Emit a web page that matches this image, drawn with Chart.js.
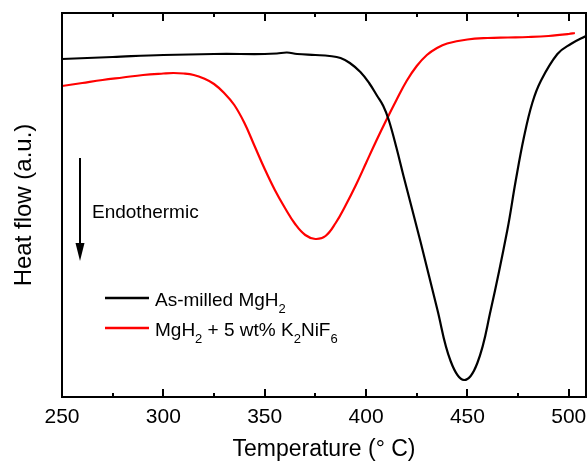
<!DOCTYPE html>
<html>
<head>
<meta charset="utf-8">
<script src="https://cdn.jsdelivr.net/npm/chart.js@4/dist/chart.umd.min.js"></script>
<style>
  html, body { margin: 0; padding: 0; background: #fff; }
  #wrap { width: 588px; height: 465px; }
</style>
</head>
<body>
<div id="wrap"><canvas id="dsc"></canvas></div>
<script>
// ===== x axis ticks =====
const majorTicks = [250, 300, 350, 400, 450, 500];
const minorTicks = [275, 325, 375, 425, 475];

// ===== As-milled MgH2 =====
const milledTemp = [250, 275, 300, 325, 350, 356, 361, 366, 375, 382, 387.4, 392, 397.2, 401.5, 405.5, 408.5, 411.2, 414.9, 418.6, 426.9, 435.1, 441.7, 448.3, 454.9, 461.5, 469.7, 473.8, 477.9, 482, 486.2, 494.4, 501, 508.5];
const milledHeat = [338, 340, 342, 343, 343, 343.5, 344.5, 343, 342, 341, 339, 334, 325, 314, 301, 291, 277, 250, 220, 155, 88, 36, 17, 34, 87, 167, 216, 260, 294, 316, 343, 353, 361];

// ===== MgH2 + 5 wt% K2NiF6 =====
const dopedTemp = [250, 260, 270, 280, 290, 300, 305, 310, 315, 320, 325, 330, 335, 340, 345, 350, 355, 360, 365, 370, 375, 380, 385, 390, 395, 400, 405, 410, 415, 420, 425, 430, 435, 440, 450, 460, 470, 480, 490, 500, 503];
const dopedHeat = [311, 314, 317, 319.5, 322, 323.5, 324, 323.5, 322, 318.5, 313, 304, 292, 274, 251, 228, 207, 189, 173, 162, 158, 161, 174, 192, 212, 234, 256, 277, 297, 316, 331, 342, 349, 353.5, 357.5, 359, 359.5, 360, 361, 363, 364];

const FONT = "'Liberation Sans', Arial, sans-serif";

function toPoints(xs, ys) {
    return xs.map((x, i) => ({ x: x, y: ys[i] }));
}

// frame, inward ticks, legend and arrow note
const decorPlugin = {
    id: 'decor',
    afterDraw(chart) {
        const ctx = chart.ctx;
        const a = chart.chartArea;
        const xs = chart.scales.x;
        ctx.save();
        ctx.strokeStyle = '#000';
        ctx.lineWidth = 2;
        ctx.strokeRect(a.left, a.top, a.right - a.left, a.bottom - a.top);

        const tick = (v, len) => {
            const px = Math.round(xs.getPixelForValue(v));
            ctx.beginPath();
            ctx.moveTo(px, a.bottom);
            ctx.lineTo(px, a.bottom - len);
            ctx.moveTo(px, a.top);
            ctx.lineTo(px, a.top + len);
            ctx.stroke();
        };
        majorTicks.forEach(v => tick(v, 8));
        minorTicks.forEach(v => tick(v, 4));

        // legend
        const legendRows = [
            { color: '#000000', y: 298, parts: [['As-milled MgH', 0], ['2', 1]] },
            { color: '#ff0000', y: 328, parts: [['MgH', 0], ['2', 1], [' + 5 wt% K', 0], ['2', 1], ['NiF', 0], ['6', 1]] }
        ];
        legendRows.forEach(row => {
            ctx.strokeStyle = row.color;
            ctx.lineWidth = 2.5;
            ctx.beginPath();
            ctx.moveTo(105, row.y);
            ctx.lineTo(149, row.y);
            ctx.stroke();
            let x = 155;
            const base = row.y + 8;
            ctx.fillStyle = '#000';
            ctx.textBaseline = 'alphabetic';
            ctx.textAlign = 'left';
            row.parts.forEach(([txt, sub]) => {
                ctx.font = (sub ? '13px ' : '19px ') + FONT;
                ctx.fillText(txt, x, sub ? base + 7 : base);
                x += ctx.measureText(txt).width;
            });
        });

        // endothermic arrow
        ctx.strokeStyle = '#000';
        ctx.fillStyle = '#000';
        ctx.lineWidth = 2;
        ctx.beginPath();
        ctx.moveTo(80, 158);
        ctx.lineTo(80, 246);
        ctx.stroke();
        ctx.beginPath();
        ctx.moveTo(75.5, 243);
        ctx.lineTo(84.5, 243);
        ctx.lineTo(80, 261);
        ctx.closePath();
        ctx.fill();
        ctx.font = '19px ' + FONT;
        ctx.fillText('Endothermic', 92, 218);
        ctx.restore();
    }
};

new Chart(document.getElementById('dsc'), {
    type: 'line',
    data: {
        datasets: [
            {
                label: 'As-milled MgH2',
                data: toPoints(milledTemp, milledHeat),
                borderColor: '#000000',
                borderWidth: 2.2,
                pointRadius: 0,
                tension: 0.4
            },
            {
                label: 'MgH2 + 5 wt% K2NiF6',
                data: toPoints(dopedTemp, dopedHeat),
                borderColor: '#ff0000',
                borderWidth: 2.2,
                pointRadius: 0,
                tension: 0.4
            }
        ]
    },
    options: {
        responsive: true,
        maintainAspectRatio: false,
        animation: false,
        layout: { padding: { top: 13, right: 2, left: 0, bottom: 0 } },
        plugins: {
            legend: { display: false },
            tooltip: { enabled: false }
        },
        scales: {
            x: {
                type: 'linear',
                min: 250,
                max: 508.5,
                afterFit: s => { s.height = 68; s.paddingLeft = 0; s.paddingRight = 0; },
                afterBuildTicks: s => { s.ticks = majorTicks.map(v => ({ value: v })); },
                grid: { display: false, drawTicks: false },
                border: { display: false },
                ticks: {
                    padding: 8,
                    color: '#000',
                    font: { family: FONT, size: 21 },
                    maxRotation: 0
                },
                title: {
                    display: true,
                    text: 'Temperature (° C)',
                    color: '#000',
                    font: { family: FONT, size: 23 },
                    padding: { top: 0, bottom: 2 }
                }
            },
            y: {
                min: 0,
                max: 384,
                afterFit: s => { s.width = 62; },
                grid: { display: false, drawTicks: false },
                border: { display: false },
                ticks: { display: false },
                title: {
                    display: true,
                    text: 'Heat flow (a.u.)',
                    color: '#000',
                    font: { family: FONT, size: 24 },
                    padding: 10
                }
            }
        }
    },
    plugins: [decorPlugin]
});
</script>
</body>
</html>
